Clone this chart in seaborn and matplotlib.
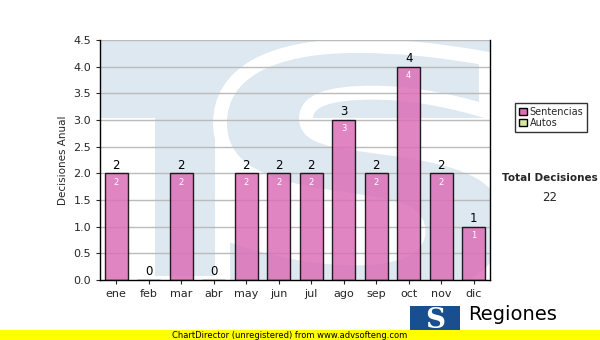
import matplotlib
matplotlib.use("Agg")
import matplotlib.pyplot as plt
import matplotlib.patches as mpatches
from matplotlib.textpath import TextPath
from matplotlib.font_manager import FontProperties
from matplotlib.transforms import Affine2D
import seaborn as sns
import pandas as pd

meses = ["ene", "feb", "mar", "abr", "may", "jun", "jul", "ago", "sep", "oct", "nov", "dic"]
sentencias = [2, 0, 2, 0, 2, 2, 2, 3, 2, 4, 2, 1]
autos = [0, 0, 0, 0, 0, 0, 0, 0, 0, 0, 0, 0]
yticks = [0.0, 0.5, 1.0, 1.5, 2.0, 2.5, 3.0, 3.5, 4.0, 4.5]
total = sum(sentencias) + sum(autos)

sns.set_style("white")
plt.rcParams['font.family'] = ['DejaVu Sans']

df = pd.DataFrame({"mes": meses, "Sentencias": sentencias})

W, H = 600, 340
fig = plt.figure(figsize=(6, 3.4), dpi=100)
L, R, T, B = 100, 490, 40, 280
ax = fig.add_axes([L/W, 1-B/H, (R-L)/W, (B-T)/H])

WM = "#dde8f1"
def px2ax(x, y):
    return (x - L) / (R - L), (B - y) / (B - T)

# watermark "TS" logo drawn as patches
x0, y0 = px2ax(100, 118)
ax.add_patch(mpatches.Rectangle((x0, y0), 1.0, 1.0 - y0, transform=ax.transAxes,
                                facecolor=WM, edgecolor="none", zorder=0))
sx0, sy0 = px2ax(155, 276)
sx1, sy1 = px2ax(215, 110)
ax.add_patch(mpatches.Rectangle((sx0, sy0), sx1 - sx0, sy1 - sy0, transform=ax.transAxes,
                                facecolor=WM, edgecolor="none", zorder=0))
tp = TextPath((0, 0), "S", size=1, prop=FontProperties(family="DejaVu Sans", weight="bold"))
ext = tp.get_extents()
tx0, ty1 = px2ax(220, 46)
tx1, ty0 = px2ax(510, 305)
aff = (Affine2D().translate(-ext.x0, -ext.y0)
       .scale((tx1 - tx0) / ext.width, (ty1 - ty0) / ext.height)
       .translate(tx0, ty0))
ax.add_patch(mpatches.PathPatch(tp, transform=aff + ax.transAxes, facecolor=WM,
                                edgecolor="white", linewidth=10, zorder=0.5))

for y in yticks[1:]:
    ax.axhline(y, color="#bbbbbb", lw=1, zorder=1)

sns.barplot(data=df, x="mes", y="Sentencias", color="#dc6fb8", alpha=0.85,
            width=0.7, edgecolor="black", linewidth=1, saturation=1, ax=ax, zorder=2)

for i, v in enumerate(sentencias):
    ax.text(i, v + 0.03, str(v), ha="center", va="bottom", fontsize=8.5, color="black", zorder=3)
    if v > 0:
        ax.text(i, v - 0.08, str(v), ha="center", va="top", fontsize=6, color="white", zorder=3)

ax.set_ylim(0, 4.5)
ax.set_xlim(-0.5, 11.5)
ax.set_yticks(yticks)
ax.set_yticklabels([f"{t:.1f}" for t in yticks], fontsize=8)
ax.tick_params(axis="x", labelsize=8, length=3, direction="out", bottom=True)
ax.tick_params(axis="y", length=3, direction="out", left=True)
ax.set_xlabel("")
ax.set_ylabel("Decisiones Anual", fontsize=7.5)
for s in ["left", "bottom", "right"]:
    ax.spines[s].set_color("black")
    ax.spines[s].set_linewidth(1)
ax.spines["top"].set_visible(False)

handles = [mpatches.Patch(facecolor="#dc6fb8", edgecolor="black", label="Sentencias"),
           mpatches.Patch(facecolor="#d4e8a0", edgecolor="black", label="Autos")]
leg = fig.legend(handles=handles, loc="upper left", bbox_to_anchor=(510/W, 1-98/H),
                 fontsize=7, frameon=True, fancybox=False, handlelength=0.8, handleheight=0.8,
                 handletextpad=0.3, borderpad=0.4, labelspacing=0.1, edgecolor="black")
leg.get_frame().set_linewidth(1)

fig.text(550/W, 1-178/H, "Total Decisiones", ha="center", va="center", fontsize=7.5, fontweight="bold")
fig.text(550/W, 1-197/H, str(total), ha="center", va="center", fontsize=8.5)

# logo
fig.patches.append(mpatches.Rectangle((410/W, 1-334/H), 50/W, 28/H, transform=fig.transFigure,
                                      facecolor="#1a4f8f", edgecolor="none", zorder=5))
fig.text(435/W, 1-320/H, "S", ha="center", va="center", fontsize=20, color="white", fontweight="bold",
         family="DejaVu Serif", zorder=6)
fig.text(468/W, 1-315/H, "Regiones", ha="left", va="center", fontsize=14, color="black", zorder=6)

# footer
fig.patches.append(mpatches.Rectangle((0, 0), 1, 10/H, transform=fig.transFigure,
                                      facecolor="#ffff00", edgecolor="none", zorder=7))
fig.text(290/W, 5/H, "ChartDirector (unregistered) from www.advsofteng.com", ha="center", va="center",
         fontsize=6, color="black", zorder=8)

fig.savefig("out.png", dpi=100)
